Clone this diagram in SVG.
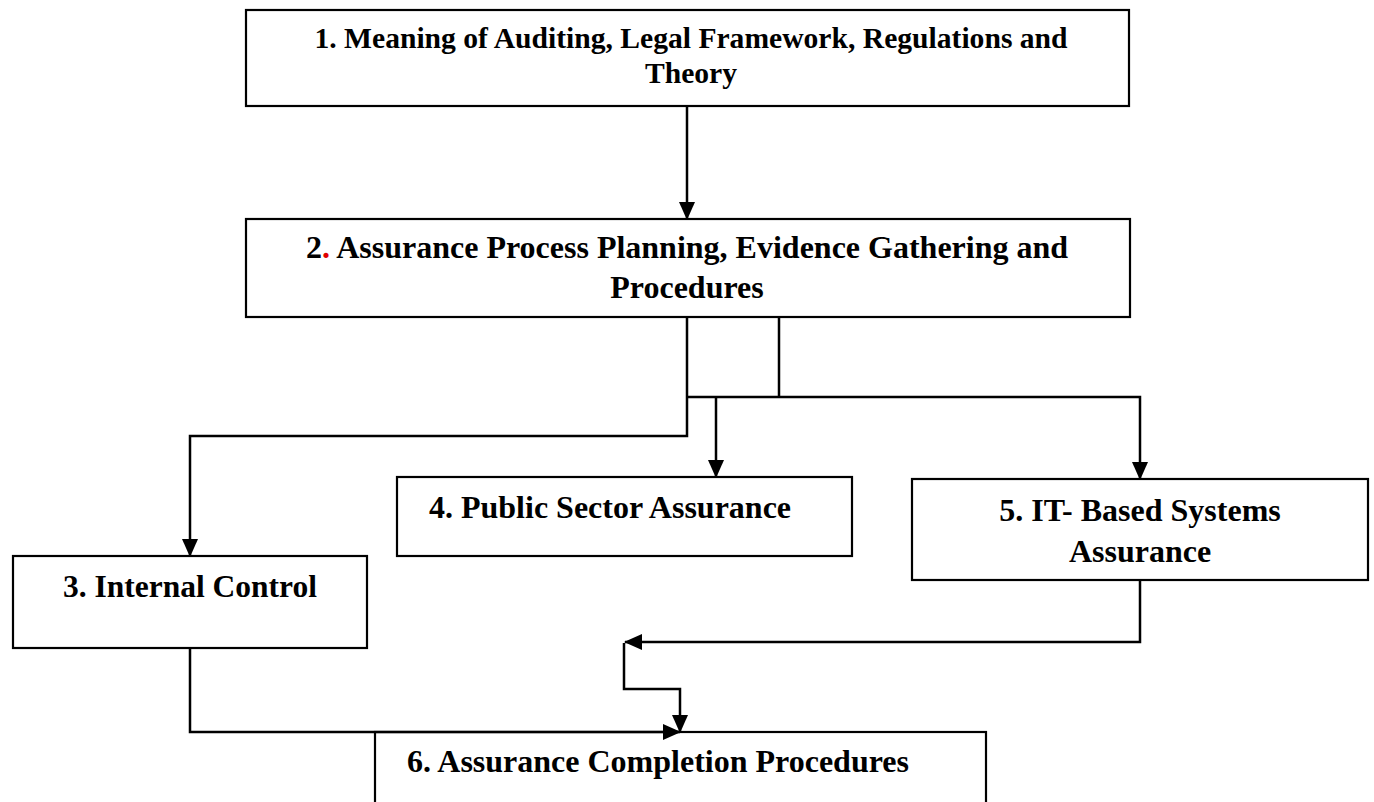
<svg xmlns="http://www.w3.org/2000/svg" width="1374" height="802" viewBox="0 0 1374 802">
<style>
.box{fill:#fff;stroke:#000;stroke-width:2.2}
.t{font-family:"Liberation Serif","Times New Roman",serif;font-weight:bold;fill:#000;text-anchor:middle}
.c{fill:none;stroke:#000;stroke-width:2.5}
</style>
<defs>
<marker id="ah" markerWidth="18" markerHeight="16" refX="17" refY="8" orient="auto" markerUnits="userSpaceOnUse">
<path d="M0,0 L18,8 L0,16 Z" fill="#000"/>
</marker>
</defs>
<rect width="1374" height="802" fill="#fff"/>
<g id="n1">
<rect class="box" x="246" y="10" width="883" height="96"/>
<text class="t" x="691" y="48" font-size="29.6">1. Meaning of Auditing, Legal Framework, Regulations and</text>
<text class="t" x="691" y="83" font-size="29.6">Theory</text>
</g>
<g id="n2">
<rect class="box" x="246" y="219" width="884" height="98"/>
<text class="t" x="687" y="258" font-size="32">2<tspan fill="#e00000">.</tspan> Assurance Process Planning, Evidence Gathering and</text>
<text class="t" x="687" y="298" font-size="32">Procedures</text>
</g>
<g id="n3">
<rect class="box" x="13" y="556" width="354" height="92"/>
<text class="t" x="190" y="597" font-size="31.5">3. Internal Control</text>
</g>
<g id="n4">
<rect class="box" x="397" y="477" width="455" height="79"/>
<text class="t" x="610" y="518" font-size="32">4. Public Sector Assurance</text>
</g>
<g id="n5">
<rect class="box" x="912" y="479" width="456" height="101"/>
<text class="t" x="1140" y="521" font-size="32">5. IT- Based Systems</text>
<text class="t" x="1140" y="562" font-size="32">Assurance</text>
</g>
<g id="n6">
<rect class="box" x="375" y="732" width="611" height="100"/>
<text class="t" x="658" y="772" font-size="32">6. Assurance Completion Procedures</text>
</g>
<g id="connectors">
<path class="c" d="M687,106 V219" marker-end="url(#ah)"/>
<path class="c" d="M687,317 V436 H190 V556" marker-end="url(#ah)"/>
<path class="c" d="M779,317 V397"/>
<path class="c" d="M687,397 H1140 V479" marker-end="url(#ah)"/>
<path class="c" d="M716,397 V477" marker-end="url(#ah)"/>
<path class="c" d="M190,648 V732 H680" marker-end="url(#ah)"/>
<path class="c" d="M1140,580 V642 H625" marker-end="url(#ah)"/>
<path class="c" d="M624,643 V689 H680 V732" marker-end="url(#ah)"/>
</g>
</svg>
